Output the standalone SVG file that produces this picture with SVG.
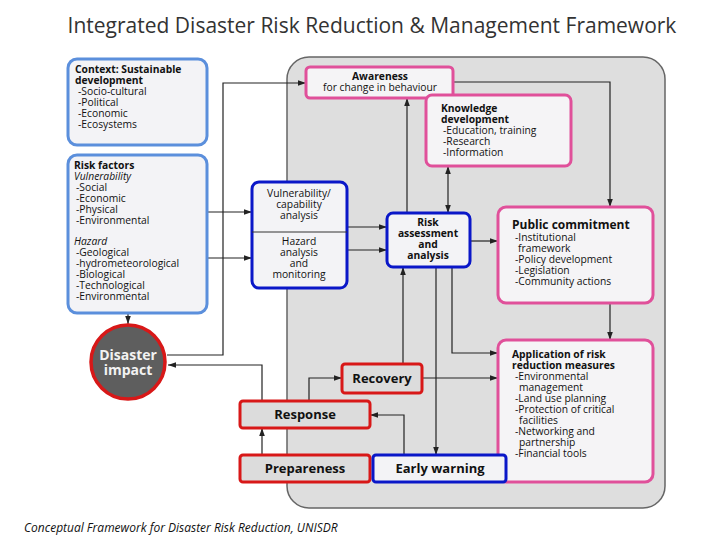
<svg xmlns="http://www.w3.org/2000/svg" width="720" height="540" viewBox="0 0 720 540">
<defs>
<marker id="a" viewBox="0 0 10 10" refX="10" refY="5" markerWidth="7" markerHeight="7" orient="auto-start-reverse"><path d="M0,1.5 L10,5 L0,8.5 z" fill="#222"/></marker>
<style>
text{font-family:"Open Sans","Liberation Sans",sans-serif;fill:#111}
.t{font-size:10.3px}
.b{font-weight:bold}
.i{font-style:italic}
.blue{fill:#f3f3f6;stroke:#5b8fdc;stroke-width:3}
.dblue{fill:#f3f3f6;stroke:#0a17c8;stroke-width:3}
.pink{fill:#f5f4f6;stroke:#e0509a;stroke-width:3}
.red{fill:#dcdcdc;stroke:#d81818;stroke-width:3}
.c{fill:none;stroke:#222;stroke-width:1.2;marker-end:url(#a)}
</style>
</defs>
<rect width="720" height="540" fill="#fff"/>
<text x="372" y="33" text-anchor="middle" style="font-size:21px;fill:#333">Integrated Disaster Risk Reduction &amp; Management Framework</text>
<rect x="287" y="57" width="378" height="451" rx="22" fill="#dedede" stroke="#666" stroke-width="1.5"/>

<g id="connectors">
<path class="c" d="M167,355 H223 V83 H306"/>
<path class="c" d="M207,212 H252"/>
<path class="c" d="M207,258 H252"/>
<path class="c" d="M347,227 H387"/>
<path class="c" d="M347,250 H387"/>
<path class="c" d="M407,213 V98"/>
<path class="c" style="marker-start:url(#a)" d="M448,166 V213"/>
<path class="c" d="M453,82 H610 V207"/>
<path class="c" d="M470,241 H498"/>
<path class="c" d="M610,303 V340"/>
<path class="c" d="M403,364 V267"/>
<path class="c" d="M436,267 V455"/>
<path class="c" d="M452,267 V353 H498"/>
<path class="c" d="M422,378 H498"/>
<path class="c" d="M309,401 V378 H342"/>
<path class="c" d="M262,401 V365 H168"/>
<path class="c" d="M262,455 V428"/>
<path class="c" d="M404,455 V415 H370"/>
<path class="c" d="M128,313 V324"/>
</g>

<g id="context"><rect class="blue" x="68" y="59" width="139" height="86" rx="9"/>
<text class="t b" x="75" y="73">Context: Sustainable</text><text class="t b" x="75" y="84">development</text>
<text class="t" x="78" y="95">-Socio-cultural</text><text class="t" x="78" y="106">-Political</text><text class="t" x="78" y="117">-Economic</text><text class="t" x="78" y="128">-Ecosystems</text></g>

<g id="riskfactors"><rect class="blue" x="68" y="155" width="139" height="158" rx="9"/>
<text class="t b" x="74" y="169">Risk factors</text><text class="t i" x="74" y="180">Vulnerability</text>
<text class="t" x="76" y="191">-Social</text><text class="t" x="76" y="202">-Economic</text><text class="t" x="76" y="213">-Physical</text><text class="t" x="76" y="224">-Environmental</text>
<text class="t i" x="74" y="245">Hazard</text>
<text class="t" x="76" y="256">-Geological</text><text class="t" x="76" y="267">-hydrometeorological</text><text class="t" x="76" y="278">-Biological</text><text class="t" x="76" y="289">-Technological</text><text class="t" x="76" y="300">-Environmental</text></g>

<g id="impact"><circle cx="128" cy="362" r="37" fill="#5e5e5e" stroke="#d81818" stroke-width="3.5"/>
<text x="128" y="360" text-anchor="middle" class="b" style="font-size:14px;fill:#f2f2f2">Disaster</text>
<text x="128" y="375" text-anchor="middle" class="b" style="font-size:14px;fill:#f2f2f2">impact</text></g>

<g id="vuln"><rect class="dblue" x="252" y="182" width="95" height="106" rx="7"/>
<line x1="252" y1="232" x2="347" y2="232" stroke="#333" stroke-width="1"/>
<g text-anchor="middle"><text class="t" x="299" y="197">Vulnerability/</text><text class="t" x="299" y="208">capability</text><text class="t" x="299" y="219">analysis</text>
<text class="t" x="299" y="245">Hazard</text><text class="t" x="299" y="256">analysis</text><text class="t" x="299" y="267">and</text><text class="t" x="299" y="278">monitoring</text></g></g>

<g id="awareness"><rect class="pink" x="306" y="67" width="147" height="31" rx="4"/>
<text class="t b" x="380" y="80" text-anchor="middle">Awareness</text><text class="t" x="380" y="91" text-anchor="middle">for change in behaviour</text></g>

<g id="knowledge"><rect class="pink" x="426" y="95" width="145" height="71" rx="6"/>
<text class="t b" x="441" y="112">Knowledge</text><text class="t b" x="441" y="123">development</text>
<text class="t" x="443" y="134">-Education, training</text><text class="t" x="443" y="145">-Research</text><text class="t" x="443" y="156">-Information</text></g>

<g id="risk"><rect class="dblue" x="387" y="213" width="83" height="54" rx="6"/>
<g text-anchor="middle"><text class="t b" x="428" y="226">Risk</text><text class="t b" x="428" y="237">assessment</text><text class="t b" x="428" y="248">and</text><text class="t b" x="428" y="259">analysis</text></g></g>

<g id="public"><rect class="pink" x="498" y="207" width="155" height="96" rx="8"/>
<text class="b" style="font-size:12px" x="512" y="229">Public commitment</text>
<text class="t" x="515" y="241">-Institutional</text><text class="t" x="518" y="252">framework</text><text class="t" x="515" y="263">-Policy development</text><text class="t" x="515" y="274">-Legislation</text><text class="t" x="515" y="285">-Community actions</text></g>

<g id="application"><rect class="pink" x="498" y="340" width="155" height="142" rx="8"/>
<text class="t b" x="512" y="358">Application of risk</text><text class="t b" x="512" y="369">reduction measures</text>
<text class="t" x="515" y="380">-Environmental</text><text class="t" x="519" y="391">management</text><text class="t" x="515" y="402">-Land use planning</text><text class="t" x="515" y="413">-Protection of critical</text><text class="t" x="519" y="424">facilities</text><text class="t" x="515" y="435">-Networking and</text><text class="t" x="519" y="446">partnership</text><text class="t" x="515" y="457">-Financial tools</text></g>

<g id="recovery"><rect class="red" x="342" y="364" width="80" height="29" rx="3"/>
<text class="b" style="font-size:13px" x="382" y="383" text-anchor="middle">Recovery</text></g>
<g id="response"><rect class="red" x="240" y="401" width="130" height="27" rx="3"/>
<text class="b" style="font-size:13px" x="305" y="419" text-anchor="middle">Response</text></g>
<g id="prepareness"><rect class="red" x="240" y="455" width="130" height="27" rx="3"/>
<text class="b" style="font-size:13px" x="305" y="473" text-anchor="middle">Prepareness</text></g>
<g id="earlywarning"><rect x="373" y="455" width="133" height="27" rx="3" fill="#f3f3f6" stroke="#0a17c8" stroke-width="3"/>
<text class="b" style="font-size:13px" x="440" y="473" text-anchor="middle">Early warning</text></g>

<text x="24" y="532" class="i" style="font-size:12px">Conceptual Framework for Disaster Risk Reduction, UNISDR</text>
</svg>
